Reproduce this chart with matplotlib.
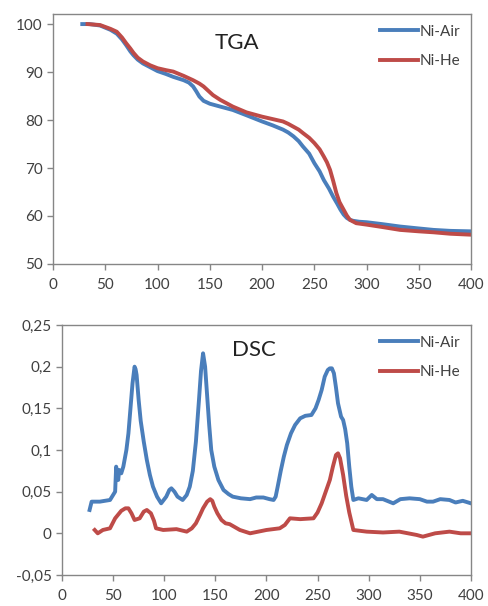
"""TGA / DSC curves for Ni samples under air and helium."""
import matplotlib

matplotlib.use("Agg")
import matplotlib.pyplot as plt

# TGA (mass %, vs temperature)
tga_air_x = [28, 35, 45, 55, 61, 66, 70, 74, 77, 81, 86, 93, 100, 108, 115, 125, 130, 134,
             137, 140, 144, 150, 160, 172, 185, 200, 210, 220, 225, 230, 235, 239, 245,
             250, 255, 259, 264, 268, 272, 275, 278, 281, 284, 287, 293, 300, 315, 332,
             350, 364, 380, 400]
tga_air_y = [100, 100, 99.7, 98.8, 98, 96.8, 95.6, 94.3, 93.5, 92.6, 91.8, 91, 90.2, 89.6,
             89, 88.3, 87.8, 87, 86, 84.9, 84, 83.4, 82.8, 82.1, 81, 79.7, 78.9, 78, 77.4,
             76.6, 75.6, 74.5, 73, 71, 69.3, 67.5, 65.7, 64, 62.5, 61.3, 60.3, 59.6, 59.2,
             59, 58.8, 58.7, 58.3, 57.8, 57.4, 57.1, 56.9, 56.8]
tga_he_x = [33, 45, 55, 61, 66, 70, 74, 77, 81, 86, 93, 100, 108, 115, 125, 134, 140, 144,
            148, 153, 160, 172, 185, 200, 210, 220, 225, 230, 235, 239, 245, 250, 255, 259,
            262, 265, 268, 271, 274, 278, 281, 284, 290, 300, 315, 332, 350, 364, 380, 400]
tga_he_y = [100, 99.8, 99, 98.4, 97.2, 96, 94.9, 94, 93, 92.2, 91.4, 90.8, 90.4, 90.1, 89.2,
            88.3, 87.6, 87, 86.2, 85.2, 84.2, 82.8, 81.6, 80.7, 80.2, 79.7, 79.2, 78.6, 78,
            77.3, 76.3, 75.2, 73.9, 72.4, 71.2, 69.6, 67.3, 64.8, 62.9, 61.3, 60.1, 59.2,
            58.5, 58.2, 57.7, 57.1, 56.8, 56.6, 56.3, 56.1]

# DSC (heat flow, vs temperature)
dsc_air_x = [27, 29, 37, 47, 52, 53, 55, 56, 58, 60, 63, 65, 67, 69, 71, 72, 73, 75, 77,
             80, 83, 86, 89, 93, 97, 102, 105, 107, 110, 113, 118, 122, 125, 128, 131, 134,
             136, 138, 140, 142, 144, 146, 149, 153, 158, 163, 167, 175, 184, 190, 197,
             203, 207, 209, 211, 214, 217, 220, 224, 228, 233, 238, 244, 248, 251, 254,
             257, 260, 262, 264, 266, 268, 270, 273, 275, 277, 279, 281, 283, 285, 290,
             298, 303, 308, 314, 320, 324, 331, 340, 350, 357, 363, 370, 379, 385, 392, 400]
dsc_air_y = [0.028, 0.038, 0.038, 0.04, 0.05, 0.08, 0.064, 0.076, 0.072, 0.08, 0.1, 0.12,
             0.15, 0.18, 0.2, 0.197, 0.19, 0.16, 0.135, 0.11, 0.088, 0.07, 0.056, 0.044,
             0.036, 0.044, 0.052, 0.054, 0.05, 0.044, 0.04, 0.046, 0.056, 0.075, 0.11,
             0.16, 0.195, 0.216, 0.2, 0.165, 0.13, 0.1, 0.08, 0.064, 0.052, 0.047, 0.044,
             0.042, 0.041, 0.043, 0.043, 0.041, 0.04, 0.044, 0.056, 0.075, 0.092, 0.106,
             0.12, 0.13, 0.138, 0.141, 0.142, 0.15, 0.16, 0.172, 0.188, 0.196, 0.198, 0.198,
             0.192, 0.175, 0.156, 0.14, 0.136, 0.125, 0.108, 0.08, 0.056, 0.04, 0.042, 0.04,
             0.046, 0.041, 0.041, 0.038, 0.036, 0.041, 0.042, 0.041, 0.038, 0.038, 0.041,
             0.04, 0.037, 0.039, 0.036]
dsc_he_x = [32, 35, 40, 47, 52, 58, 62, 65, 68, 71, 76, 80, 83, 87, 90, 92, 99, 112, 122,
            127, 131, 135, 138, 142, 145, 147, 149, 152, 156, 160, 164, 174, 184, 200, 213,
            218, 223, 233, 246, 250, 254, 258, 262, 265, 268, 270, 272, 275, 278, 281, 285,
            298, 314, 330, 347, 353, 365, 379, 390, 400]
dsc_he_y = [0.004, 0.0, 0.004, 0.006, 0.018, 0.027, 0.03, 0.03, 0.024, 0.016, 0.018, 0.026,
            0.028, 0.024, 0.015, 0.006, 0.004, 0.005, 0.002, 0.006, 0.012, 0.022, 0.03,
            0.038, 0.041, 0.039, 0.032, 0.024, 0.016, 0.012, 0.011, 0.004, 0.0, 0.004,
            0.006, 0.01, 0.018, 0.017, 0.018, 0.025, 0.036, 0.05, 0.064, 0.08, 0.094, 0.096,
            0.09, 0.07, 0.045, 0.025, 0.004, 0.002, 0.001, 0.002, -0.002, -0.004, 0.0,
            0.002, 0.0, 0.0]

x_ticks = [0, 50, 100, 150, 200, 250, 300, 350, 400]
tga_ticks = [50, 60, 70, 80, 90, 100]
dsc_ticks = [-0.05, 0, 0.05, 0.1, 0.15, 0.2, 0.25]
dsc_tick_labels = ["-0,05", "0", "0,05", "0,1", "0,15", "0,2", "0,25"]

BLUE = "#4a7ebb"
RED = "#be4b48"
GRAY = "#868686"
TXT = "#404040"

plt.rcParams["font.family"] = ["Lato", "DejaVu Sans"]

fig = plt.figure(figsize=(4.88, 6.06), dpi=100)
ax1 = fig.add_axes([0.1086, 0.5644, 0.857, 0.4125])
ax2 = fig.add_axes([0.127, 0.0512, 0.838, 0.4125])


def style(ax):
    for s in ax.spines.values():
        s.set_color(GRAY)
        s.set_linewidth(1.0)
    ax.tick_params(colors=GRAY, labelcolor=TXT, labelsize=11, length=4, width=1, direction="out")
    ax.tick_params(axis="x", pad=6)
    ax.set_xlim(0, 400)
    ax.set_xticks(x_ticks)


ax1.plot(tga_air_x, tga_air_y, color=BLUE, lw=2.8, label="Ni-Air", solid_joinstyle="round")
ax1.plot(tga_he_x, tga_he_y, color=RED, lw=2.8, label="Ni-He", solid_joinstyle="round")
style(ax1)
ax1.set_ylim(50, 102.1)
ax1.set_yticks(tga_ticks)
ax1.text(0.44, 0.885, "TGA", transform=ax1.transAxes, ha="center", va="center", fontsize=16, color="#222222")

ax2.plot(dsc_air_x, dsc_air_y, color=BLUE, lw=2.8, label="Ni-Air", solid_joinstyle="round")
ax2.plot(dsc_he_x, dsc_he_y, color=RED, lw=2.8, label="Ni-He", solid_joinstyle="round")
style(ax2)
ax2.set_ylim(-0.05, 0.25)
ax2.set_yticks(dsc_ticks)
ax2.set_yticklabels(dsc_tick_labels)
ax2.text(0.47, 0.9, "DSC", transform=ax2.transAxes, ha="center", va="center", fontsize=16, color="#222222")

for ax in (ax1, ax2):
    ax.legend(loc="upper right", frameon=False, fontsize=11, handlelength=2.5,
              handletextpad=0.1, labelspacing=1.0, borderaxespad=0.3,
              labelcolor=TXT)

fig.savefig("out.png", dpi=100)
